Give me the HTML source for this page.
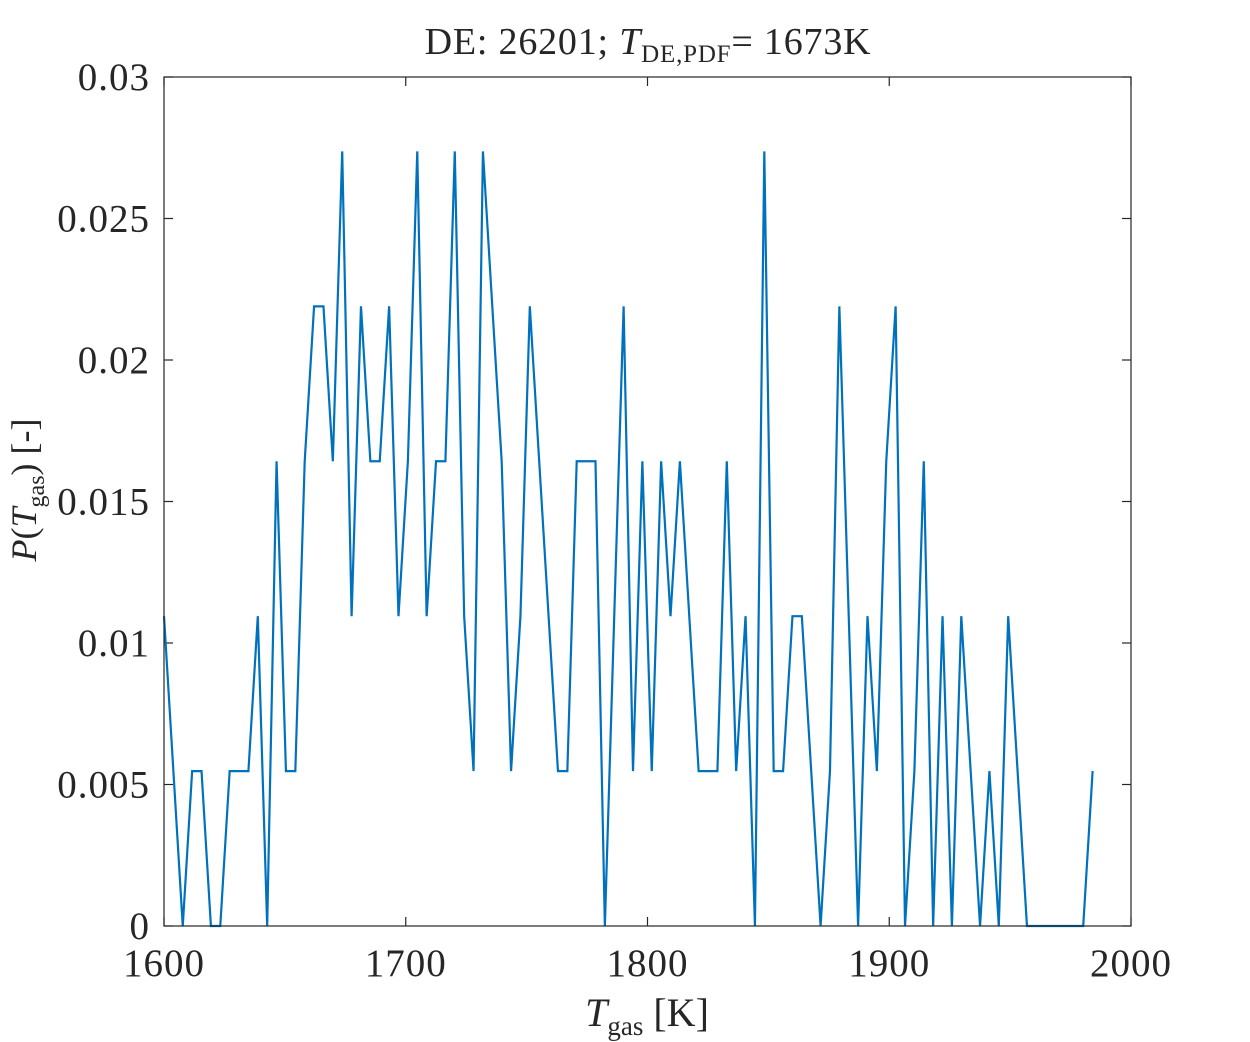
<!DOCTYPE html>
<html><head><meta charset="utf-8"><style>
html,body{margin:0;padding:0;background:#fff;}
svg{display:block;font-family:"Liberation Serif",serif;}
</style></head><body>
<svg id="chart" width="1250" height="1042" viewBox="0 0 1250 1042">
<rect x="0" y="0" width="1250" height="1042" fill="#fff"/>
<g id="ticks"></g>
<polyline id="series" fill="none" stroke="#0072bd" stroke-width="2.2" stroke-linejoin="miter"/>
<rect x="164" y="77" width="967" height="849" fill="none" stroke="#262626" stroke-width="1.2"/>
<text x="648" y="54" text-anchor="middle" font-size="38" fill="#262626" letter-spacing="0.8">DE: 26201; <tspan font-style="italic">T</tspan><tspan font-size="25" dy="8">DE,PDF</tspan><tspan dy="-8">= 1673K</tspan></text>
<text x="647" y="1026" text-anchor="middle" font-size="40" fill="#262626"><tspan font-style="italic">T</tspan><tspan font-size="27" dy="9">gas</tspan><tspan dy="-9"> [K]</tspan></text>
<text transform="translate(36,490) rotate(-90)" text-anchor="middle" font-size="36" fill="#262626"><tspan font-style="italic">P</tspan>(<tspan font-style="italic">T</tspan><tspan font-size="24" dy="8">gas</tspan><tspan dy="-8">) [-]</tspan></text>
</svg>
<script>
const xTicks = [1600, 1700, 1800, 1900, 2000];
const yTicks = [0, 0.005, 0.01, 0.015, 0.02, 0.025, 0.03];
const yTickLabels = ["0", "0.005", "0.01", "0.015", "0.02", "0.025", "0.03"];
const tStart = 1600;
const tStep = 3.88;
const levelUnit = 0.005474;
const counts = [2,1,0,1,1,0,0,1,1,1,2,0,3,1,1,3,4,4,3,5,2,4,3,3,4,2,3,5,2,3,3,5,2,1,5,4,3,1,2,4,3,2,1,1,3,3,3,0,2,4,1,3,1,3,2,3,2,1,1,1,3,1,2,0,5,1,1,2,2,1,0,1,4,2,0,2,1,3,4,0,1,3,0,2,0,2,1,0,1,0,2,1,0,0,0,0,0,0,0,1];

const X0=164,X1=1131,Y0=926,Y1=77;
const xs = v => X0 + (v-1600)/(2000-1600)*(X1-X0);
const ys = v => Y0 - (v-0)/(0.03-0)*(Y0-Y1);
const NS="http://www.w3.org/2000/svg";
const g=document.getElementById('ticks');
function mk(tag,attrs){const e=document.createElementNS(NS,tag);for(const k in attrs)e.setAttribute(k,attrs[k]);g.appendChild(e);return e;}
xTicks.forEach(t=>{
  const x=xs(t);
  const a=mk('line',{x1:x,x2:x,y1:Y0,y2:Y0-9,stroke:'#262626','stroke-width':1.2});
  
  
  const b=mk('line',{x1:x,x2:x,y1:Y1,y2:Y1+9,stroke:'#262626','stroke-width':1.2});
  
  
  const tx=mk('text',{x:x,y:976,'text-anchor':'middle','font-size':39,'letter-spacing':1,fill:'#262626'});
  tx.textContent=t;
  
  
});
yTicks.forEach((t,i)=>{
  const y=ys(t);
  const a=mk('line',{x1:X0,x2:X0+9,y1:y,y2:y,stroke:'#262626','stroke-width':1.2});
  
  
  const b=mk('line',{x1:X1,x2:X1-9,y1:y,y2:y,stroke:'#262626','stroke-width':1.2});
  
  
  const tx=mk('text',{x:150,y:y+13,'text-anchor':'end','font-size':39,'letter-spacing':1,fill:'#262626'});
  tx.textContent=yTickLabels[i];
  
  
});
const pts=counts.map((c,i)=>xs(tStart+i*tStep).toFixed(2)+','+ys(c*levelUnit).toFixed(2)).join(' ');
document.getElementById('series').setAttribute('points',pts);
</script>
</body></html>
